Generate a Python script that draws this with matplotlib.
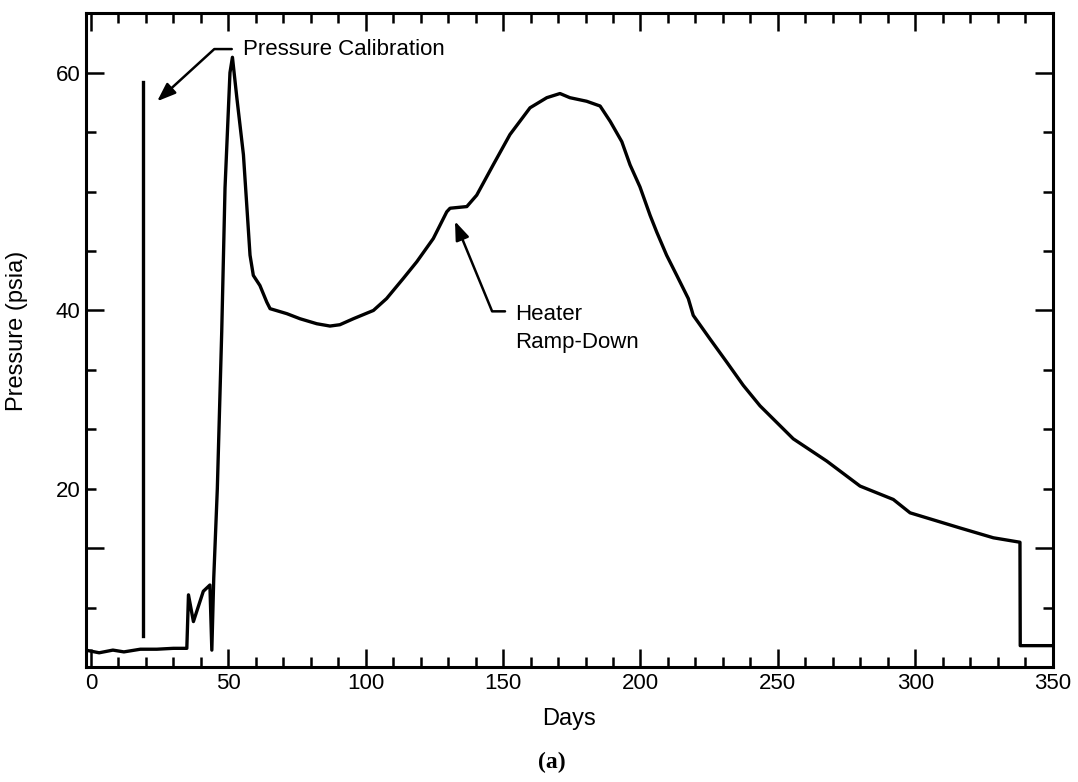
"""Pressure history vs. days, redrawn from the scanned figure (a)."""
import numpy as np
import matplotlib
import matplotlib.pyplot as plt
from matplotlib.ticker import FixedLocator, FuncFormatter, MultipleLocator

matplotlib.use('Agg')
plt.rcParams['font.family'] = ['Liberation Sans', 'DejaVu Sans']

# --- data (days, psia) ---
days = [-1.9, 3, 8, 12, 18, 24, 30, 34.9,
        35.5, 37.3, 40.9, 43.3, 44.0,
        44.7, 46.0, 47.6, 48.8, 50.6, 51.5,
        53.1, 55.5, 56.7, 57.9, 59.1, 61.5, 64.0, 65.2, 71.3, 76.1,
        82.2, 87.0, 90.6, 95.5, 102.8, 107.6, 113.7, 118.6, 124.6, 129.5,
        130.7, 136.8, 140.4, 146.4, 152.5, 159.8, 165.9, 170.7, 174.3, 180.4,
        185.3, 189.0, 193.2, 196.2, 199.8, 203.5, 205.9, 209.5, 213.2, 217.4,
        219.2, 225.3, 231.4, 237.4, 243.5, 255.6, 267.8, 279.9, 292.0, 298.1,
        316.3, 328.4, 338.1, 338.2, 350]
psia = [1.9, 1.6, 1.9, 1.7, 2.0, 2.0, 2.1, 2.1,
        8.1, 5.1, 8.5, 9.2, 1.9,
        10.0, 20.0, 37.6, 50.3, 60.0, 61.3,
        57.9, 53.1, 48.9, 44.65, 42.95, 42.1, 40.7, 40.15, 39.64, 39.07,
        38.51, 38.25, 38.4, 39.07, 40.0, 41.0, 42.7, 44.1, 46.05, 48.3,
        48.6, 48.74, 49.7, 52.25, 54.8, 57.05, 57.9, 58.25, 57.9, 57.6,
        57.2, 55.9, 54.2, 52.25, 50.4, 48.0, 46.6, 44.65, 42.95, 41.0,
        39.45, 36.8, 34.2, 31.6, 29.3, 25.6, 23.1, 20.3, 18.8, 17.3,
        15.6, 14.5, 14.0, 2.4, 2.4]

# pressure calibration spike
cal_days = [19.1, 19.1]
cal_psia = [3.5, 59.2]

# the printed y axis is not linear: 0-40 psia over 6 ticks, 40-65 over 5
PSIA_KNOTS = [0, 40, 65]
UNIT_KNOTS = [0, 6, 11]


def fwd(v):
    return np.interp(v, PSIA_KNOTS, UNIT_KNOTS)


def inv(u):
    return np.interp(u, UNIT_KNOTS, PSIA_KNOTS)


fig = plt.figure(figsize=(10.78, 7.82), dpi=100)
ax = fig.add_axes([0.0795, 0.147, 0.897, 0.836])

ax.plot(days, psia, color='black', lw=2.4, solid_joinstyle='round')
ax.plot(cal_days, cal_psia, color='black', lw=2.4)

ax.set_yscale('function', functions=(fwd, inv))
ax.set_xlim(-1.9, 350)
ax.set_ylim(0, 65)

# ticks
ax.xaxis.set_major_locator(MultipleLocator(50))
ax.xaxis.set_minor_locator(MultipleLocator(10))
ax.yaxis.set_major_locator(FixedLocator(inv([2, 6, 10])))
ax.yaxis.set_minor_locator(FixedLocator(inv([1, 3, 4, 5, 7, 8, 9])))
ax.yaxis.set_major_formatter(FuncFormatter(
    lambda v, p: f"{v:.0f}" if abs(v - 40) < 0.1 or abs(v - 60) < 0.1 else ""))
ax.yaxis.set_minor_formatter(FuncFormatter(
    lambda v, p: "20" if abs(v - 20) < 0.1 else ""))

ax.tick_params(which='both', direction='in', top=True, right=True,
               width=1.8, labelsize=16, pad=4)
ax.tick_params(which='major', length=13)
ax.tick_params(which='minor', length=7.5)
for s in ax.spines.values():
    s.set_linewidth(2.2)

ax.set_xlabel('Days', fontsize=17)
ax.xaxis.set_label_coords(0.5, -0.062)
ax.set_ylabel('Pressure (psia)', fontsize=17)
ax.yaxis.set_label_coords(-0.06, 0.514)

# annotations
arrow = dict(arrowstyle='-|>,head_length=0.8,head_width=0.3', color='black',
             lw=1.8, mutation_scale=14, shrinkB=0)
ax.annotate('Pressure Calibration', xy=(24.1, 57.6), xytext=(55.3, 62.2),
            fontsize=16, ha='left', va='center_baseline',
            arrowprops=dict(arrow, shrinkA=6,
                            connectionstyle='angle,angleA=0,angleB=42.4,rad=0'))
ax.annotate('', xy=(132.5, 47.5), xytext=(150.7, 39.9),
            arrowprops=dict(arrow, shrinkA=0,
                            connectionstyle='angle,angleA=0,angleB=-67.6,rad=0'))
ax.text(154.3, 39.83, 'Heater', fontsize=16, ha='left', va='center_baseline')
ax.text(154.3, 36.63, 'Ramp-Down', fontsize=16, ha='left', va='center_baseline')

fig.text(552 / 1078, 1 - 762 / 782, '(a)', fontsize=17, fontweight='bold',
         family=['Liberation Serif', 'DejaVu Serif'], ha='center', va='center')

fig.savefig('out.png', dpi=100)
